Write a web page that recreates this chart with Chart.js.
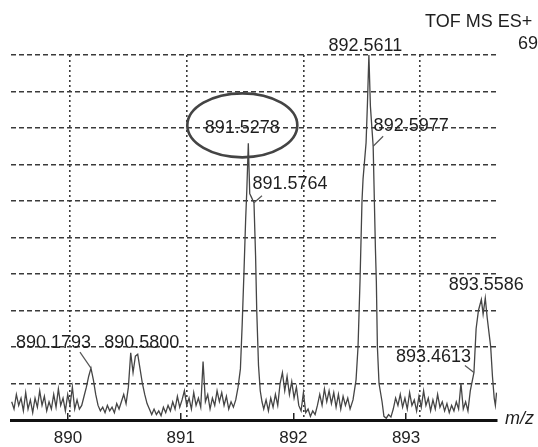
<!DOCTYPE html>
<html>
<head>
<meta charset="utf-8">
<script src="https://cdn.jsdelivr.net/npm/chart.js@4.4.1/dist/chart.umd.min.js"></script>
<style>
  html, body { margin: 0; padding: 0; background: #fff; }
  canvas { display: block; }
</style>
</head>
<body>
<canvas id="spectrum" width="538" height="447"></canvas>
<script>
// TOF MS ES+ profile spectrum, m/z 889.5 - 893.66, relative intensity (%)
const mzValues = [
  889.50, 889.52, 889.54, 889.56, 889.58, 889.60, 889.62, 889.64, 889.66, 889.68,
  889.70, 889.72, 889.74, 889.76, 889.78, 889.80, 889.82, 889.84, 889.86, 889.88,
  889.90, 889.92, 889.94, 889.96, 889.98, 890.00, 890.02, 890.04, 890.06, 890.08,
  890.10, 890.12, 890.14, 890.16, 890.1793, 890.20, 890.22, 890.24, 890.26, 890.28,
  890.30, 890.32, 890.34, 890.36, 890.38, 890.40, 890.42, 890.44, 890.46, 890.48,
  890.50, 890.52, 890.54, 890.56, 890.58, 890.60, 890.62, 890.64, 890.66, 890.68,
  890.70, 890.72, 890.74, 890.76, 890.78, 890.80, 890.82, 890.84, 890.86, 890.88,
  890.90, 890.92, 890.94, 890.96, 890.98, 891.00, 891.02, 891.04, 891.06, 891.08,
  891.10, 891.12, 891.14, 891.16, 891.18, 891.20, 891.22, 891.24, 891.26, 891.28,
  891.30, 891.32, 891.34, 891.36, 891.38, 891.40, 891.42, 891.44, 891.46, 891.475,
  891.49, 891.505, 891.515, 891.5278, 891.54, 891.555, 891.5764, 891.59, 891.60, 891.615,
  891.63, 891.645, 891.66, 891.68, 891.70, 891.72, 891.74, 891.76, 891.78, 891.80,
  891.82, 891.84, 891.86, 891.88, 891.90, 891.92, 891.94, 891.96, 891.98, 892.00,
  892.02, 892.04, 892.06, 892.08, 892.10, 892.12, 892.14, 892.16, 892.18, 892.20,
  892.22, 892.24, 892.26, 892.28, 892.30, 892.32, 892.34, 892.36, 892.38, 892.40,
  892.425, 892.451, 892.468, 892.485, 892.502, 892.511, 892.537, 892.549, 892.5611, 892.574,
  892.5977, 892.608, 892.617, 892.625, 892.634, 892.648, 892.674, 892.69, 892.71, 892.73,
  892.75, 892.77, 892.79, 892.81, 892.83, 892.85, 892.87, 892.89, 892.91, 892.93,
  892.95, 892.97, 892.99, 893.01, 893.03, 893.05, 893.07, 893.09, 893.11, 893.13,
  893.15, 893.17, 893.19, 893.21, 893.23, 893.25, 893.27, 893.29, 893.31, 893.33,
  893.35, 893.37, 893.39, 893.41, 893.43, 893.4613, 893.48, 893.50, 893.525, 893.54,
  893.5586, 893.575, 893.59, 893.605, 893.62, 893.635, 893.645, 893.655
];

const intensity = [
  5, 3, 7, 4, 6, 2.5, 7.5, 3, 5.5, 2,
  6, 3.5, 8, 4, 6.5, 2.5, 5, 3, 7, 3.5,
  8.5, 4, 6, 2.5, 7, 4, 9, 3, 5.5, 3,
  4, 6.5, 9, 12, 14.2, 11, 7, 4, 2.5, 3.5,
  2, 4, 2.5, 3.5, 2, 4.5, 3, 5, 7, 4.5,
  9, 18.4, 13, 17.5, 18, 14, 10, 7, 4.5, 3,
  1.5, 3, 1.5, 2.5, 1.2, 3.5, 2, 4, 2.5, 5,
  3, 6.5, 3.5, 5.5, 8, 4, 6, 3, 7.5, 4,
  6, 3.5, 16, 5, 7, 3, 6, 4, 8, 5,
  7.5, 4, 6.5, 3, 5, 3.5, 5.5, 9, 14, 26,
  40, 55, 63, 75.8, 62, 61, 59.5, 45, 30, 15,
  8, 5, 3, 5.5, 2.5, 6, 3.5, 7, 4, 10,
  13, 8, 12, 7, 10.5, 6, 9, 4, 2.5, 7.5,
  2, 3, 1, 2.5, 1.5, 4, 7, 4, 8.5, 5,
  8, 4.5, 7.5, 3.5, 7, 3, 6.5, 4, 6, 3,
  5.5, 11, 20, 38, 60, 66, 76, 87, 100, 86,
  75, 60, 47, 38, 20, 10, 5, 1, 0.5, 1.5,
  0.8, 3, 6, 4, 7, 3.5, 6, 3, 7.5, 4,
  5.5, 2.5, 6.5, 3.5, 8, 4, 6, 2.5, 5.5, 3,
  7, 3.5, 5, 2.5, 4.5, 2, 4, 2.5, 5, 3,
  10, 3, 5, 2.5, 8, 13, 25, 30, 33, 29,
  33.4, 28, 24, 20, 12, 6, 4, 7.5
];

// printed m/z tick labels
const axisTicks = [890, 891, 892, 893];

// centroid labels printed over the trace
const peakLabels = ['892.5611', '892.5977', '891.5278', '891.5764',
                    '890.1793', '890.5800', '893.5586', '893.4613'];

const headerLabels = ['TOF MS ES+', '69'];
const axisName = 'm/z';

// where each label sits relative to its peak apex (px), optional leader end, ring
const labelPlacement = {
  '892.5611': { dx: -3.5, dy: -9 },
  '892.5977': { dx: 38, dy: -20, lead: [10, -10] },
  '891.5278': { dx: -6, dy: -15, ring: { dx: -6, dy: -18, rx: 55, ry: 32 } },
  '891.5764': { dx: 36, dy: -19, lead: [8, -7] },
  '890.1793': { dx: -37.5, dy: -25, lead: [-11, -16] },
  '890.5800': { dx: 4, dy: -11 },
  '893.5586': { dx: 1, dy: -13 },
  '893.4613': { dx: -40.5, dy: -16, lead: [-9, -7] }
};

const FONT = '"Liberation Sans", Arial, Helvetica, sans-serif';

const annotations = {
  id: 'annotations',
  afterDraw(chart) {
    const ctx = chart.ctx;
    const xs = chart.scales.x, ys = chart.scales.y;
    ctx.save();
    ctx.fillStyle = '#1e1e1e';
    ctx.strokeStyle = '#555';
    ctx.textAlign = 'center';
    ctx.textBaseline = 'middle';
    ctx.font = '18px ' + FONT;

    peakLabels.forEach(label => {
      const idx = mzValues.findIndex(v => Math.abs(v - parseFloat(label)) < 1e-6);
      const px = xs.getPixelForValue(mzValues[idx]);
      const py = ys.getPixelForValue(intensity[idx]);
      const p = labelPlacement[label];
      if (p.lead) {
        ctx.lineWidth = 1.2;
        ctx.beginPath();
        ctx.moveTo(px, py);
        ctx.lineTo(px + p.lead[0], py + p.lead[1]);
        ctx.stroke();
      }
      ctx.fillText(label, px + p.dx, py + p.dy);
      if (p.ring) {
        ctx.save();
        ctx.lineWidth = 2.6;
        ctx.strokeStyle = '#444';
        ctx.beginPath();
        ctx.ellipse(px + p.ring.dx, py + p.ring.dy, p.ring.rx, p.ring.ry, 0, 0, Math.PI * 2);
        ctx.stroke();
        ctx.restore();
      }
    });

    // acquisition header, top right
    ctx.textAlign = 'left';
    ctx.fillText(headerLabels[0], 425, 22);
    ctx.fillText(headerLabels[1], 518, 44);

    // axis name
    ctx.font = 'italic 18px ' + FONT;
    ctx.fillText(axisName, 505, 419);
    ctx.restore();
  }
};

new Chart(document.getElementById('spectrum'), {
  type: 'line',
  data: {
    datasets: [{
      data: mzValues.map((m, i) => ({ x: m, y: intensity[i] })),
      borderColor: '#454545',
      borderWidth: 1.3,
      pointRadius: 0,
      tension: 0,
      fill: false
    }]
  },
  options: {
    responsive: false,
    animation: false,
    devicePixelRatio: 1,
    layout: { padding: { left: 11, right: 41, top: 55, bottom: 0 } },
    plugins: { legend: { display: false }, tooltip: { enabled: false } },
    scales: {
      // data axis: carries the dotted vertical grid at whole m/z values
      x: {
        type: 'linear',
        position: 'top',
        min: 889.494,
        max: 893.659,
        ticks: { display: false, stepSize: 1, includeBounds: false },
        grid: { drawTicks: false, color: '#3a3a3a', lineWidth: 1.6 },
        border: { display: false, dash: [2, 3] }
      },
      // printed tick labels along the baseline
      xt: {
        type: 'linear',
        position: 'bottom',
        min: 889.494,
        max: 893.807,
        afterBuildTicks: s => { s.ticks = axisTicks.map(v => ({ value: v })); },
        afterFit: s => { s.height = 27; },
        ticks: {
          autoSkip: false,
          maxRotation: 0,
          padding: 15,
          color: '#222',
          font: { family: FONT, size: 17 },
          callback: v => String(v)
        },
        grid: { drawOnChartArea: false, drawTicks: true, tickLength: -7, color: '#222', lineWidth: 1.5 },
        border: { display: true, color: '#111', width: 3 }
      },
      y: {
        type: 'linear',
        min: 0,
        max: 100,
        ticks: { display: false, stepSize: 10 },
        grid: { drawTicks: false, color: '#3a3a3a', lineWidth: 1.6 },
        border: { display: false, dash: [5, 3] }
      }
    }
  },
  plugins: [annotations]
});
</script>
</body>
</html>
